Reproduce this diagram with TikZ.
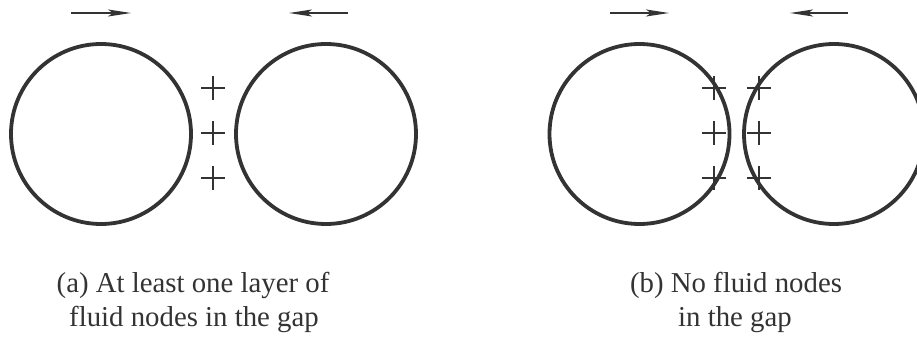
\documentclass[tikz,border=0pt]{standalone}
\usepackage{fontspec}
\setmainfont{Liberation Serif}
\usetikzlibrary{arrows.meta}
\definecolor{ink}{HTML}{333333}
\tikzset{
  ball/.style={circle, draw=ink, line width=3.8pt, minimum size=180pt, inner sep=0pt},
  fluid/.style={inner sep=0pt, minimum size=24pt,
    path picture={\draw[ink, line width=1.8pt]
      (path picture bounding box.north) -- (path picture bounding box.south)
      (path picture bounding box.west) -- (path picture bounding box.east);}},
  motion/.style={draw=ink, line width=2pt, -{Stealth[length=23pt,width=7pt,inset=5pt]}},
  caption/.style={anchor=base, text=ink, inner sep=0pt, font=\fontsize{28.8}{33}\selectfont}
}
\begin{document}
\begin{tikzpicture}[x=1pt,y=-1pt]
\useasboundingbox (0,0) rectangle (917,342);
\clip (0,0) rectangle (917,342);
% ---- panel (a)
\node[ball] (a1) at (101,134) {};
\node[ball] (a2) at (326,134) {};
\node[fluid] (fa1) at (213,88) {};
\node[fluid] (fa2) at (213,133) {};
\node[fluid] (fa3) at (213,178) {};
\coordinate (aL0) at (71,13);  \coordinate (aL1) at (131,13);
\coordinate (aR0) at (348,13); \coordinate (aR1) at (289,13);
\draw[motion] (aL0) -- (aL1);
\draw[motion] (aR0) -- (aR1);
\node[caption] (capa1) at (193,292) {(a) At least one layer of};
\node[caption] (capa2) at (194,326) {fluid nodes in the gap};
% ---- panel (b)
\node[ball] (b1) at (639.5,134) {};
\node[ball] (b2) at (834,134) {};
\node[fluid] (fb1) at (714,88) {};
\node[fluid] (fb2) at (714,133) {};
\node[fluid] (fb3) at (714,178) {};
\node[fluid] (fb4) at (759,88) {};
\node[fluid] (fb5) at (759,133) {};
\node[fluid] (fb6) at (759,178) {};
\coordinate (bL0) at (610,13); \coordinate (bL1) at (669,13);
\coordinate (bR0) at (848,13); \coordinate (bR1) at (790,13);
\draw[motion] (bL0) -- (bL1);
\draw[motion] (bR0) -- (bR1);
\node[caption] (capb1) at (736,292) {(b) No fluid nodes};
\node[caption] (capb2) at (735,326) {in the gap};
\end{tikzpicture}
\end{document}
